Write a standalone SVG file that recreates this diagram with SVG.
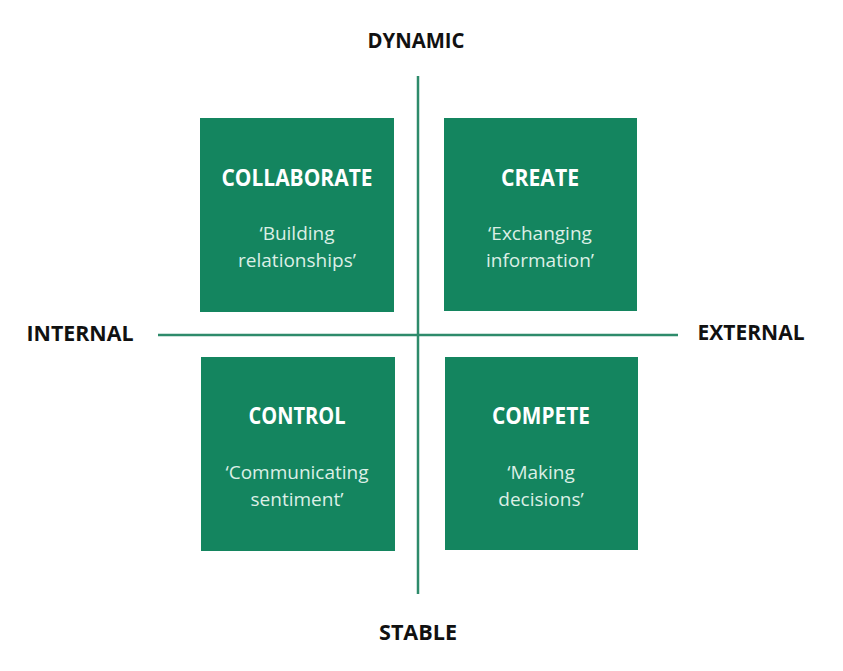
<svg xmlns="http://www.w3.org/2000/svg" width="843" height="671" viewBox="0 0 843 671">
<style>
.box{fill:#14855f}
.axis{stroke:#2e8b6b;stroke-width:2.5;fill:none}
.lab{font-family:"Open Sans","Liberation Sans",sans-serif;font-weight:700;font-size:21px;fill:#111;text-anchor:middle}
.t{font-family:"Open Sans","Liberation Sans",sans-serif;font-weight:700;font-size:23px;fill:#fff;text-anchor:middle}
.s{font-family:"Open Sans","Liberation Sans",sans-serif;font-size:19px;fill:#dcefe6;text-anchor:middle}
</style>
<rect width="843" height="671" fill="#fff"/>
<g id="connectors">
<line class="axis" x1="418" y1="76" x2="418" y2="594"/>
<line class="axis" x1="158" y1="335" x2="678" y2="335"/>
</g>
<g id="dynamic"><text class="lab" x="416" y="48" textLength="97" lengthAdjust="spacingAndGlyphs">DYNAMIC</text></g>
<g id="stable"><text class="lab" x="418" y="640" textLength="78" lengthAdjust="spacingAndGlyphs">STABLE</text></g>
<g id="internal"><text class="lab" x="80" y="341" textLength="107" lengthAdjust="spacingAndGlyphs">INTERNAL</text></g>
<g id="external"><text class="lab" x="751" y="340" textLength="107" lengthAdjust="spacingAndGlyphs">EXTERNAL</text></g>
<g id="collaborate">
<rect class="box" x="200" y="118" width="194" height="194"/>
<text class="t" x="297" y="186" textLength="151" lengthAdjust="spacingAndGlyphs">COLLABORATE</text>
<text class="s" x="297" y="240">‘Building</text>
<text class="s" x="297" y="267">relationships’</text>
</g>
<g id="create">
<rect class="box" x="444" y="118" width="193" height="193"/>
<text class="t" x="540" y="186" textLength="78" lengthAdjust="spacingAndGlyphs">CREATE</text>
<text class="s" x="540" y="240">‘Exchanging</text>
<text class="s" x="540" y="267">information’</text>
</g>
<g id="control">
<rect class="box" x="201" y="357" width="194" height="194"/>
<text class="t" x="297" y="424" textLength="97" lengthAdjust="spacingAndGlyphs">CONTROL</text>
<text class="s" x="297" y="479">‘Communicating</text>
<text class="s" x="297" y="506">sentiment’</text>
</g>
<g id="compete">
<rect class="box" x="445" y="357" width="193" height="193"/>
<text class="t" x="541" y="424" textLength="98" lengthAdjust="spacingAndGlyphs">COMPETE</text>
<text class="s" x="541" y="479">‘Making</text>
<text class="s" x="541" y="506">decisions’</text>
</g>
</svg>
